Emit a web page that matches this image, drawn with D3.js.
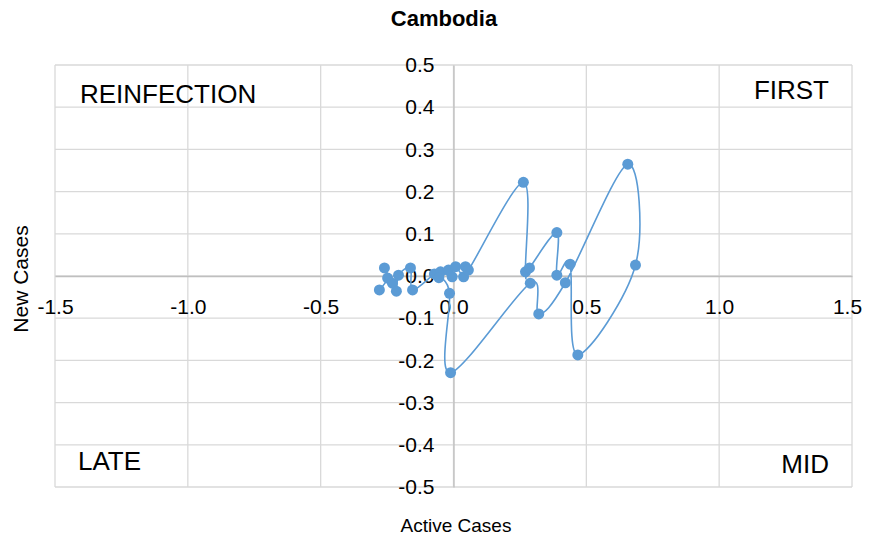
<!DOCTYPE html>
<html>
<head>
<meta charset="utf-8">
<script src="https://cdn.jsdelivr.net/npm/d3@7"></script>
<style>
  body { margin: 0; background: #fff; }
  svg { font-family: "Liberation Sans", Arial, sans-serif; }
</style>
</head>
<body>
<svg id="chart"></svg>
<script>
// Cambodia trajectory (in drawing order)
const activeCases = [
  -0.279, -0.248, -0.260, -0.230, -0.215, -0.207, -0.162, -0.154, -0.072,
  -0.049, -0.005, -0.019, 0.008, 0.038, 0.045, 0.056,
  0.263, 0.271, 0.286, 0.389, 0.389, 0.439, 0.468, 0.685, 0.656,
  0.421, 0.321, 0.289, -0.011, -0.015, -0.055
];
const newCases = [
  -0.033, -0.005, 0.019, -0.017, -0.036, 0.002, 0.019, -0.033, 0.005,
  0.010, -0.002, 0.014, 0.022, -0.002, 0.022, 0.014,
  0.222, 0.010, 0.019, 0.103, 0.002, 0.028, -0.187, 0.026, 0.265,
  -0.016, -0.090, -0.017, -0.229, -0.041, -0.004
];
const xTicks = [-1.5, -1.0, -0.5, 0.0, 0.5, 1.0, 1.5];
const yTicks = [-0.5, -0.4, -0.3, -0.2, -0.1, 0.0, 0.1, 0.2, 0.3, 0.4, 0.5];
const quadrants = [
  { label: "REINFECTION", corner: "tl" },
  { label: "FIRST", corner: "tr" },
  { label: "LATE", corner: "bl" },
  { label: "MID", corner: "br" }
];

const W = 875, H = 544;
const plot = { left: 55, right: 852, top: 65, bottom: 487 };
const color = "#5b9bd5";

const svg = d3.select("#chart").attr("width", W).attr("height", H);

const x = d3.scaleLinear().domain([-1.5, 1.5]).range([plot.left, plot.right]);
const y = d3.scaleLinear().domain([-0.5, 0.5]).range([plot.bottom, plot.top]);

// gridlines
const grid = svg.append("g").attr("stroke", "#d9d9d9").attr("stroke-width", 1.3);
grid.selectAll(".vg").data(xTicks).enter().append("line")
  .attr("x1", d => x(d)).attr("x2", d => x(d))
  .attr("y1", plot.top).attr("y2", plot.bottom);
grid.selectAll(".hg").data(yTicks).enter().append("line")
  .attr("x1", plot.left).attr("x2", plot.right)
  .attr("y1", d => y(d)).attr("y2", d => y(d));

// axes through zero
const fmt = d => d3.format(".1f")(d).replace("−", "-");
const xAxis = d3.axisBottom(x).tickValues(xTicks).tickSize(0).tickPadding(23).tickFormat(fmt);
const yAxis = d3.axisLeft(y).tickValues(yTicks).tickSize(0).tickPadding(19).tickFormat(fmt);

const gx = svg.append("g").attr("transform", `translate(0,${y(0)})`).call(xAxis);
const gy = svg.append("g").attr("transform", `translate(${x(0)},0)`).call(yAxis);
[gx, gy].forEach(g => {
  g.select(".domain").attr("stroke", "#bfbfbf").attr("stroke-width", 1.3);
  g.selectAll("text")
    .attr("fill", "#000")
    .style("font-size", "21px")
    .style("font-family", "Liberation Sans, Arial, sans-serif");
});
// end labels sit slightly inside the plot edges
gx.selectAll(".tick text")
  .attr("dx", d => d === 1.5 ? -5 : 0);

// trajectory
const pts = activeCases.map((v, i) => [v, newCases[i]]);
const line = d3.line()
  .x(d => x(d[0]))
  .y(d => y(d[1]))
  .curve(d3.curveCardinal.tension(0));

svg.append("path")
  .datum(pts)
  .attr("d", line)
  .attr("fill", "none")
  .attr("stroke", color)
  .attr("stroke-width", 1.6);

svg.selectAll(".pt").data(pts).enter().append("circle")
  .attr("class", "pt")
  .attr("cx", d => x(d[0]))
  .attr("cy", d => y(d[1]))
  .attr("r", 5.5)
  .attr("fill", color);

// quadrant labels
const qpos = {
  tl: { x: 80, y: 103, anchor: "start" },
  tr: { x: 829, y: 99, anchor: "end" },
  bl: { x: 78, y: 470, anchor: "start" },
  br: { x: 829, y: 473, anchor: "end" }
};
svg.selectAll(".quad").data(quadrants).enter().append("text")
  .attr("x", d => qpos[d.corner].x)
  .attr("y", d => qpos[d.corner].y)
  .attr("text-anchor", d => qpos[d.corner].anchor)
  .style("font-size", "26px")
  .text(d => d.label);

// titles
svg.append("text")
  .attr("x", 444).attr("y", 26)
  .attr("text-anchor", "middle")
  .style("font-size", "22px")
  .style("font-weight", "bold")
  .text("Cambodia");

svg.append("text")
  .attr("x", 456).attr("y", 532)
  .attr("text-anchor", "middle")
  .style("font-size", "19px")
  .text("Active Cases");

svg.append("text")
  .attr("transform", `translate(28,${y(0) + 3}) rotate(-90)`)
  .attr("text-anchor", "middle")
  .style("font-size", "21px")
  .text("New Cases");
</script>
</body>
</html>
